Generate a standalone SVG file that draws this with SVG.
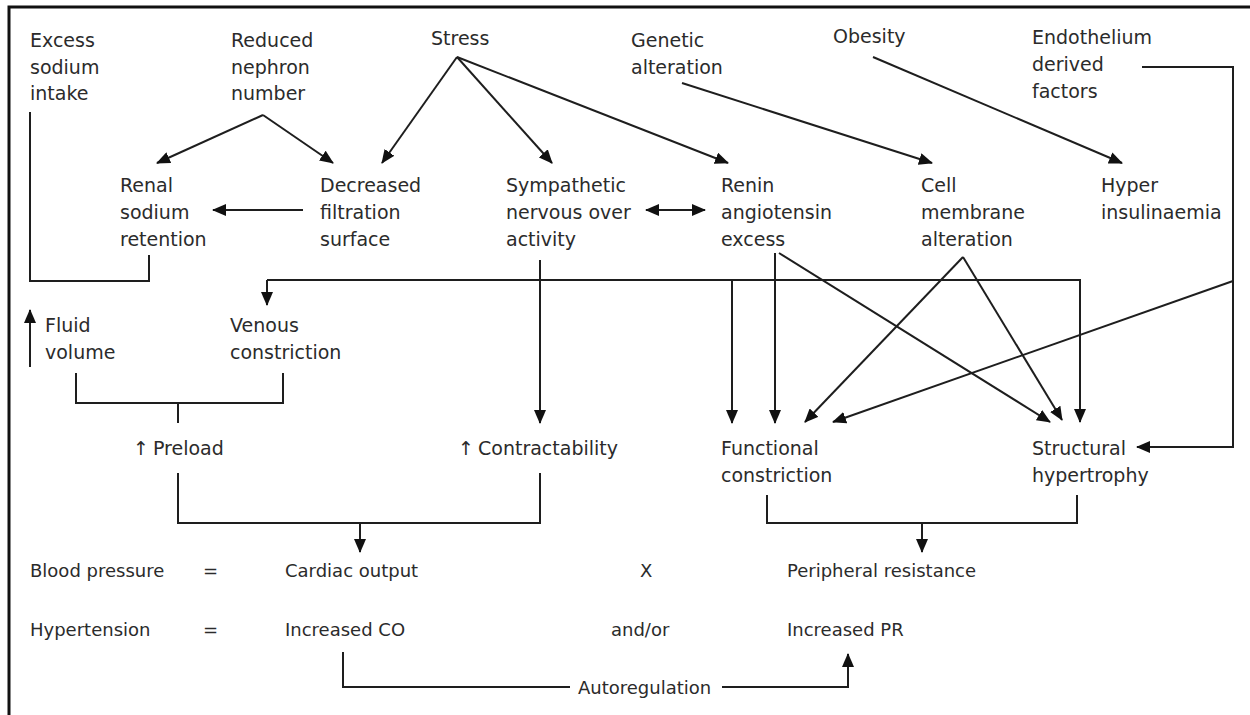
<svg xmlns="http://www.w3.org/2000/svg" width="1250" height="715" viewBox="0 0 1250 715">
<defs>
<style>
.lbl{font-family:"DejaVu Sans","Liberation Sans",sans-serif;font-size:19px;fill:#2b2b2b}
.eq{font-family:"DejaVu Sans","Liberation Sans",sans-serif;font-size:18px;fill:#2b2b2b}
.c{fill:none;stroke:#1e1e1e;stroke-width:2}
.a{marker-end:url(#ah)}
.b{marker-start:url(#ah2);marker-end:url(#ah)}
</style>
<marker id="ah" viewBox="0 0 14 12" refX="13" refY="6" markerWidth="14" markerHeight="12" orient="auto" markerUnits="userSpaceOnUse"><path d="M0,0 L14,6 L0,12 z" fill="#111"/></marker>
<marker id="ah2" viewBox="0 0 14 12" refX="13" refY="6" markerWidth="14" markerHeight="12" orient="auto-start-reverse" markerUnits="userSpaceOnUse"><path d="M0,0 L14,6 L0,12 z" fill="#111"/></marker>
</defs>
<rect width="1250" height="715" fill="#fff"/>
<g id="frame"><path d="M9,715 V7 H1250" fill="none" stroke="#111" stroke-width="3"/></g>

<g id="connectors">
<path class="c" d="M30,112 V281 H149 V255"/>
<path class="c a" d="M263,115 L157,163"/>
<path class="c a" d="M263,115 L333,163"/>
<path class="c a" d="M457,57 L382,163"/>
<path class="c a" d="M457,57 L552,163"/>
<path class="c a" d="M457,57 L728,163"/>
<path class="c a" d="M682,83 L932,163"/>
<path class="c a" d="M873,57 L1122,163"/>
<path class="c a" d="M1142,67 H1233 V447 H1137"/>
<path class="c a" d="M303,210 H213"/>
<path class="c b" d="M646,210 H705"/>
<path class="c a" d="M540,260 V423"/>
<path class="c a" d="M267,280 V305"/>
<path class="c a" d="M267,280 H1080 V422"/>
<path class="c a" d="M732,280 V423"/>
<path class="c a" d="M775,253 V423"/>
<path class="c a" d="M779,253 L1050,422"/>
<path class="c a" d="M963,257 L805,422"/>
<path class="c a" d="M963,257 L1062,420"/>
<path class="c a" d="M1233,281 L833,422"/>
<path class="c a" d="M30,367 V310"/>
<path class="c" d="M76,373 V403 H283 V373"/>
<path class="c" d="M178,403 V423"/>
<path class="c" d="M178,473 V523 H540 V473"/>
<path class="c a" d="M360,523 V552"/>
<path class="c" d="M767,495 V523 H1077 V495"/>
<path class="c a" d="M922,523 V552"/>
<path class="c" d="M343,652 V687 H570"/>
<path class="c a" d="M722,687 H848 V654"/>
</g>

<g id="excess-sodium-intake"><text class="lbl"><tspan x="30" y="47">Excess</tspan><tspan x="30" dy="27">sodium</tspan><tspan x="30" dy="26">intake</tspan></text></g>
<g id="reduced-nephron-number"><text class="lbl"><tspan x="231" y="47">Reduced</tspan><tspan x="231" dy="27">nephron</tspan><tspan x="231" dy="26">number</tspan></text></g>
<g id="stress"><text class="lbl" x="431" y="45">Stress</text></g>
<g id="genetic-alteration"><text class="lbl"><tspan x="631" y="47">Genetic</tspan><tspan x="631" dy="27">alteration</tspan></text></g>
<g id="obesity"><text class="lbl" x="833" y="43">Obesity</text></g>
<g id="endothelium"><text class="lbl"><tspan x="1032" y="44">Endothelium</tspan><tspan x="1032" dy="27">derived</tspan><tspan x="1032" dy="27">factors</tspan></text></g>

<g id="renal-sodium-retention"><text class="lbl"><tspan x="120" y="192">Renal</tspan><tspan x="120" dy="27">sodium</tspan><tspan x="120" dy="27">retention</tspan></text></g>
<g id="decreased-filtration"><text class="lbl"><tspan x="320" y="192">Decreased</tspan><tspan x="320" dy="27">filtration</tspan><tspan x="320" dy="27">surface</tspan></text></g>
<g id="sympathetic"><text class="lbl"><tspan x="506" y="192">Sympathetic</tspan><tspan x="506" dy="27">nervous over</tspan><tspan x="506" dy="27">activity</tspan></text></g>
<g id="renin-angiotensin"><text class="lbl"><tspan x="721" y="192">Renin</tspan><tspan x="721" dy="27">angiotensin</tspan><tspan x="721" dy="27">excess</tspan></text></g>
<g id="cell-membrane"><text class="lbl"><tspan x="921" y="192">Cell</tspan><tspan x="921" dy="27">membrane</tspan><tspan x="921" dy="27">alteration</tspan></text></g>
<g id="hyperinsulinaemia"><text class="lbl"><tspan x="1101" y="192">Hyper</tspan><tspan x="1101" dy="27">insulinaemia</tspan></text></g>

<g id="fluid-volume"><text class="lbl"><tspan x="45" y="332">Fluid</tspan><tspan x="45" dy="27">volume</tspan></text></g>
<g id="venous-constriction"><text class="lbl"><tspan x="230" y="332">Venous</tspan><tspan x="230" dy="27">constriction</tspan></text></g>
<g id="preload"><text class="lbl" y="455"><tspan x="133">↑ </tspan><tspan x="153">Preload</tspan></text></g>
<g id="contractability"><text class="lbl" y="455"><tspan x="458">↑ </tspan><tspan x="478">Contractability</tspan></text></g>
<g id="functional-constriction"><text class="lbl"><tspan x="721" y="455">Functional</tspan><tspan x="721" dy="27">constriction</tspan></text></g>
<g id="structural-hypertrophy"><text class="lbl"><tspan x="1032" y="455">Structural</tspan><tspan x="1032" dy="27">hypertrophy</tspan></text></g>

<g id="blood-pressure-row">
<text class="eq" x="30" y="577">Blood pressure</text>
<text class="eq" x="203" y="577">=</text>
<text class="eq" x="285" y="577">Cardiac output</text>
<text class="eq" x="640" y="577">X</text>
<text class="eq" x="787" y="577">Peripheral resistance</text>
</g>
<g id="hypertension-row">
<text class="eq" x="30" y="636">Hypertension</text>
<text class="eq" x="203" y="636">=</text>
<text class="eq" x="285" y="636">Increased CO</text>
<text class="eq" x="611" y="636">and/or</text>
<text class="eq" x="787" y="636">Increased PR</text>
</g>
<g id="autoregulation"><text class="eq" x="578" y="694">Autoregulation</text></g>
</svg>
